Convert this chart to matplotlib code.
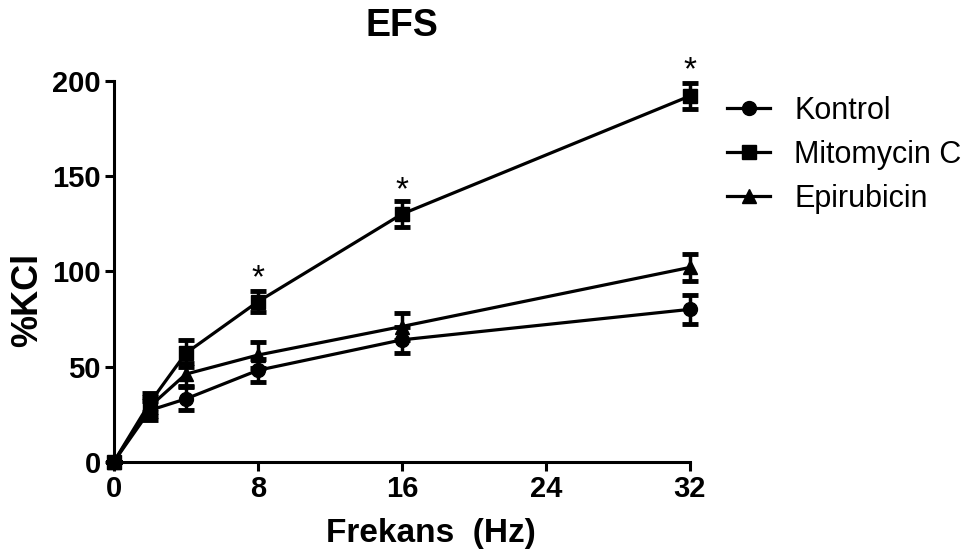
import matplotlib
matplotlib.use("Agg")
import matplotlib.pyplot as plt
from matplotlib.lines import Line2D

freq = [0, 2, 4, 8, 16, 32]
kontrol = [0, 27, 33, 48, 64, 80]
kontrol_err = [0, 5, 6, 6, 7, 7.5]
mito = [0, 31, 57, 84, 130, 192]
mito_err = [0, 5, 7, 5.5, 7, 7]
epi = [0, 29, 46, 56, 71, 102]
epi_err = [0, 5, 6, 7, 7, 7]
star_x = [8, 16, 32]
star_y = [96, 142, 205]

plt.rcParams['font.family'] = ['Liberation Sans', 'DejaVu Sans']

fig = plt.figure(figsize=(9.73, 5.57), dpi=100)
ax = fig.add_axes([0.117, 0.171, 0.592, 0.684])

series = [("Kontrol", kontrol, kontrol_err, "o"),
          ("Mitomycin C", mito, mito_err, "s"),
          ("Epirubicin", epi, epi_err, "^")]
handles = []
for name, vals, err, mk in series:
    ax.errorbar(freq, vals, yerr=err, color="black", marker=mk, markersize=10,
                linewidth=2.3, elinewidth=2.5, capsize=6, capthick=3.5,
                clip_on=False, zorder=3)
    handles.append(Line2D([], [], color="black", marker=mk, markersize=10,
                          linewidth=2.3, label=name))

for sx, sy in zip(star_x, star_y):
    ax.text(sx, sy, "*", ha="center", va="center", fontsize=24, clip_on=False)

ax.set_xlim(0, 32)
ax.set_ylim(0, 200)
ax.set_xticks([0, 8, 16, 24, 32])
ax.set_yticks([0, 50, 100, 150, 200])
for s in ["top", "right"]:
    ax.spines[s].set_visible(False)
for s in ["left", "bottom"]:
    ax.spines[s].set_linewidth(2.2)
ax.tick_params(direction="out", length=6.5, width=2.2, labelsize=21, pad=3)
for lbl in ax.get_xticklabels() + ax.get_yticklabels():
    lbl.set_fontweight("bold")

ax.set_xlabel("Frekans  (Hz)", fontsize=24, fontweight="bold")
ax.xaxis.set_label_coords(0.55, -0.148)
ax.set_ylabel("%KCl", fontsize=26, fontweight="bold")
ax.yaxis.set_label_coords(-0.119, 0.425)
ax.set_title("EFS", fontsize=27, fontweight="bold", pad=32)

fig.legend(handles=handles, loc="upper left", bbox_to_anchor=(0.738, 0.844),
           frameon=False, fontsize=22, handlelength=1.4, labelspacing=0.46,
           handletextpad=0.8, borderaxespad=0.0, borderpad=0.3)

fig.savefig("out.png", dpi=100)
